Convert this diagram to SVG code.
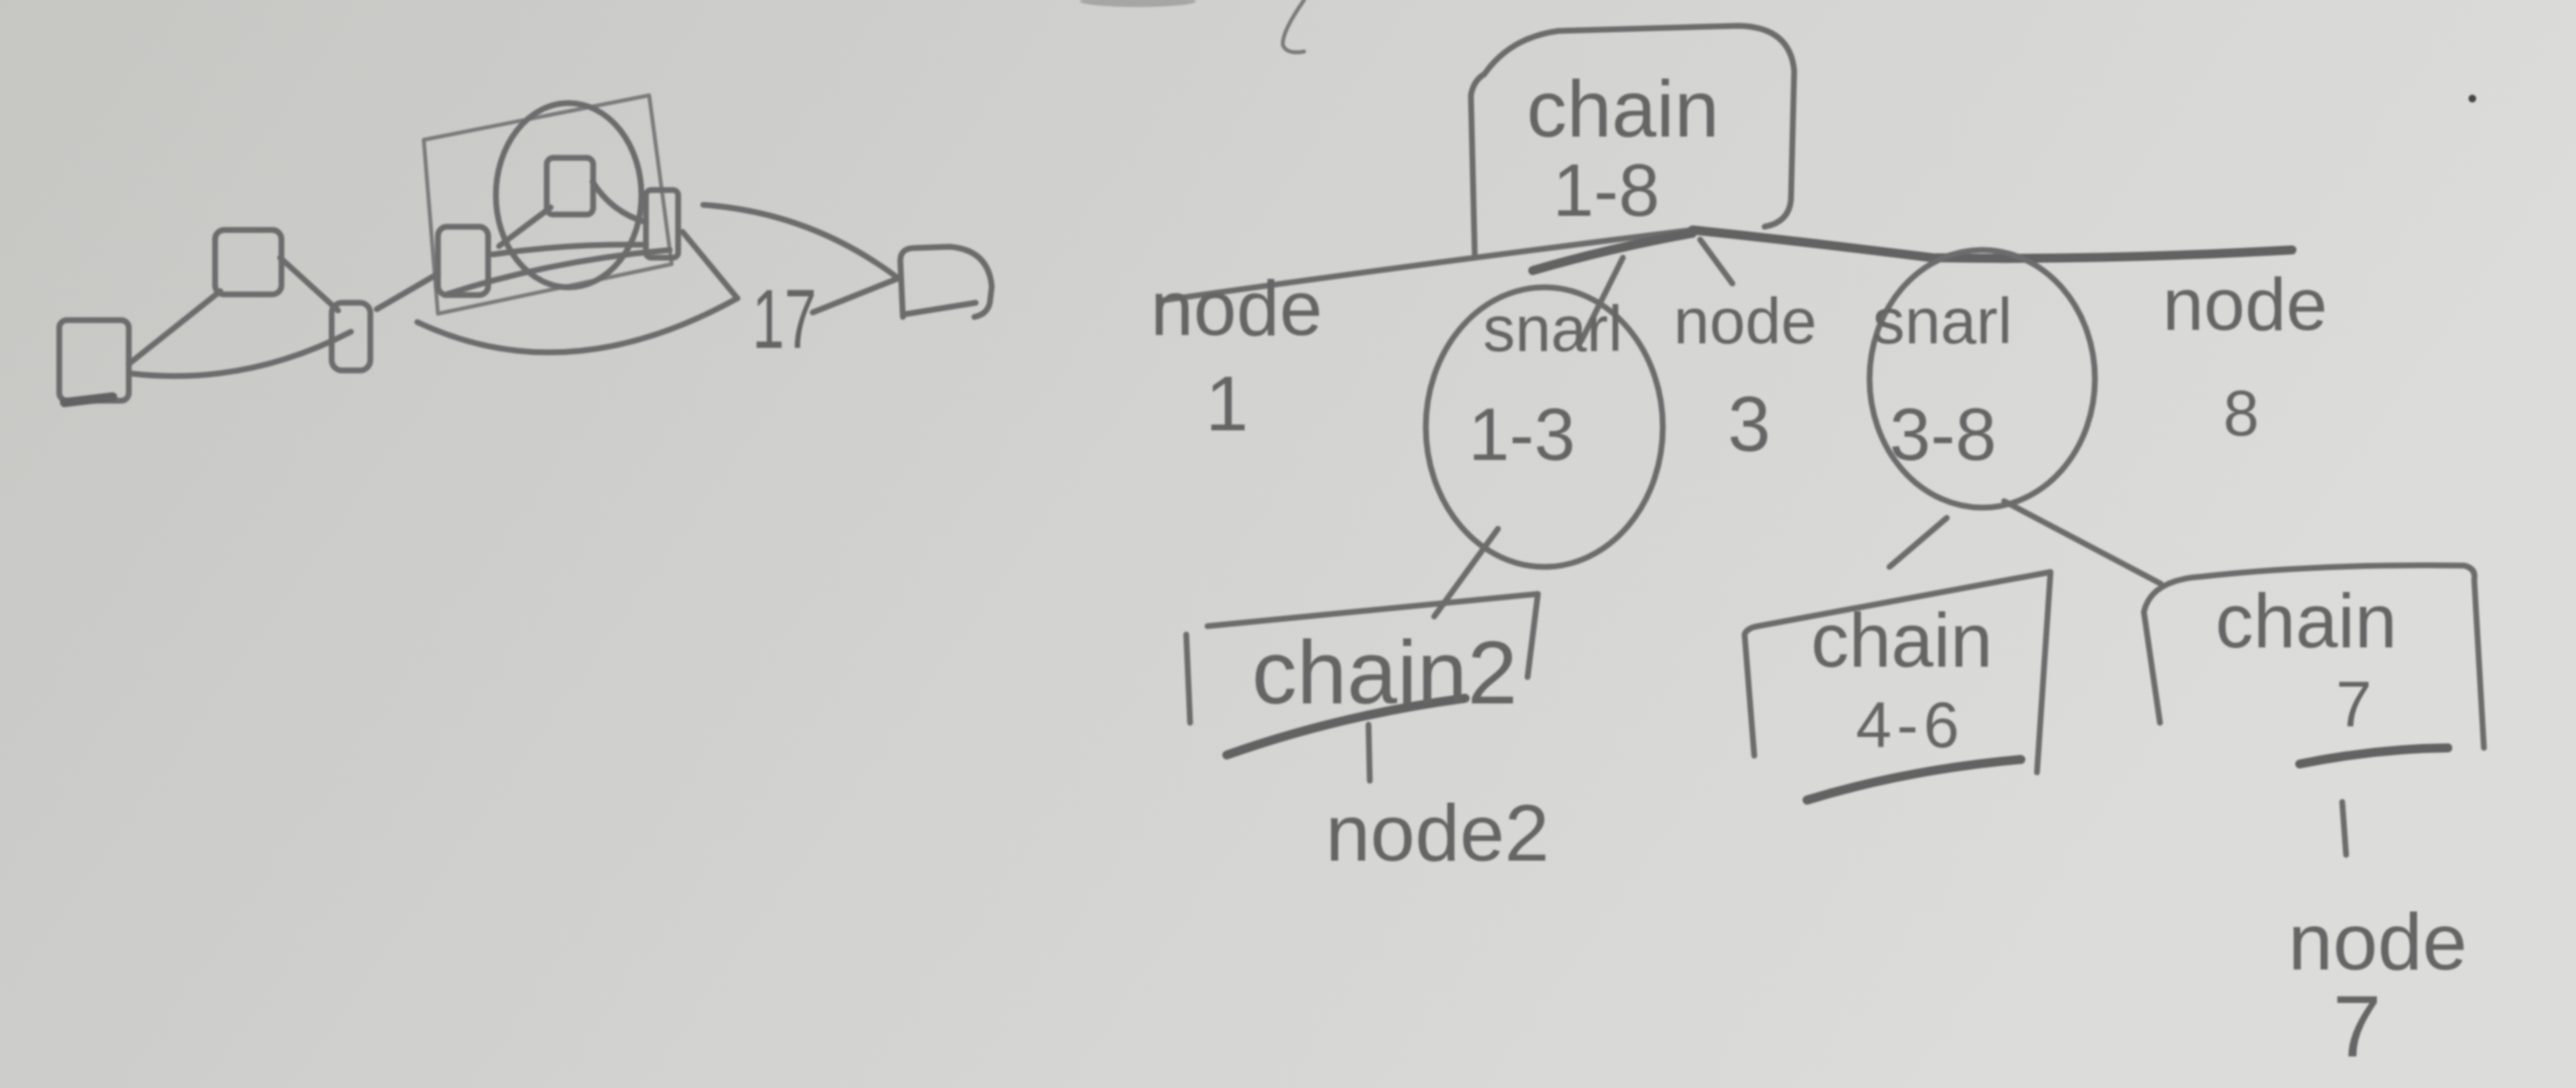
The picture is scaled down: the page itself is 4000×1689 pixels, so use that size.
<svg xmlns="http://www.w3.org/2000/svg" width="4000" height="1689" viewBox="0 0 4000 1689">
<defs>
<linearGradient id="paper" x1="0" y1="0" x2="1" y2="0.3">
<stop offset="0" stop-color="#c6c6c3"/>
<stop offset="0.5" stop-color="#d2d2d0"/>
<stop offset="1" stop-color="#dcdcdb"/>
</linearGradient>
<filter id="soft" x="-5%" y="-5%" width="110%" height="110%"><feGaussianBlur stdDeviation="1.6"/></filter>
</defs>
<style>
.p{fill:none;stroke:#6c6c6c;stroke-width:9;stroke-linecap:round;stroke-linejoin:round}
.thin{stroke-width:6;stroke:#7a7a7a}
.thick{stroke-width:14;stroke:#626262}
.t{font-family:"Liberation Sans",Arial,sans-serif;fill:#656565;text-anchor:middle}
</style>
<rect width="4000" height="1689" fill="url(#paper)"/>
<g filter="url(#soft)">
<!-- stray marks -->
<ellipse cx="1767" cy="2" rx="90" ry="9" fill="#8a8a8a" opacity="0.6"/>
<path class="p thin" d="M2025,0 Q1990,50 1992,70 Q1998,85 2025,80"/>
<circle cx="3839" cy="153" r="6" fill="#444"/>

<!-- LEFT GRAPH -->
<g id="graph-n1"><rect class="p" x="92" y="497" width="108" height="125" rx="12"/><path class="p thick" d="M100,625 L175,616"/></g>
<g id="graph-n2"><rect class="p" x="334" y="357" width="103" height="100" rx="14"/></g>
<g id="graph-n3"><rect class="p" x="515" y="470" width="60" height="105" rx="16"/></g>
<g id="graph-snarl-rect"><polygon class="p thin" points="658,217 1008,148 1043,410 680,487"/></g>
<g id="graph-snarl-circle"><ellipse class="p" cx="883" cy="303" rx="113" ry="143"/></g>
<g id="graph-n4"><rect class="p" x="680" y="352" width="78" height="106" rx="14"/></g>
<g id="graph-n5"><rect class="p" x="849" y="245" width="72" height="88" rx="10"/></g>
<g id="graph-n6"><rect class="p" x="1003" y="295" width="50" height="105" rx="8"/></g>
<g id="graph-n7"><text class="t" x="1218" y="540" font-size="130" textLength="100" lengthAdjust="spacingAndGlyphs">17</text></g>
<g id="graph-n8"><path class="p" d="M1402,492 L1398,405 Q1398,385 1420,385 L1475,383 Q1535,388 1540,445 L1537,470 Q1533,488 1513,492 M1404,488 L1515,470"/></g>

<g id="graph-edges">
<path class="p" d="M200,565 L342,452"/>
<path class="p" d="M435,400 L525,482"/>
<path class="p" d="M205,580 Q380,600 545,515"/>
<path class="p" d="M585,480 L680,425"/>
<path class="p" d="M775,382 L855,322"/>
<path class="p" d="M920,282 Q950,330 1003,345"/>
<path class="p" d="M765,395 Q880,378 1003,380"/>
<path class="p" d="M690,458 Q850,405 1040,388"/>
<path class="p" d="M648,500 Q880,610 1145,463"/>
<path class="p" d="M1060,360 L1145,463"/>
<path class="p" d="M1262,485 L1395,432"/>
<path class="p" d="M1092,318 Q1260,330 1395,432"/>
</g>

<!-- TREE -->
<g id="tree-connectors">
<path class="p" d="M1800,467 Q2200,410 2628,357"/>
<path class="p thick" d="M2380,420 Q2500,385 2628,362"/>
<path class="p thick" d="M2628,357 Q2800,375 3000,400 Q3250,405 3559,388"/>
<path class="p" d="M2520,400 L2455,530"/>
<path class="p" d="M2640,372 L2690,440"/>
<path class="p" d="M2326,821 L2227,957"/>
<path class="p" d="M2125,1125 L2127,1212"/>
<path class="p" d="M3023,804 L2934,880"/>
<path class="p" d="M3112,778 L3355,906"/>
<path class="p" d="M3637,1245 L3643,1327"/>
</g>

<g id="tree-chain-1-8">
<path class="p" d="M2290,395 L2284,148 Q2288,125 2305,115 Q2345,58 2420,48 L2700,40 Q2780,42 2786,110 L2781,310 Q2778,345 2740,352"/>
<text class="t" x="2520" y="212" font-size="125">chain</text>
<text class="t" x="2494" y="335" font-size="115">1-8</text>
</g>
<g id="tree-node-1">
<text class="t" x="1920" y="520" font-size="120">node</text>
<text class="t" x="1905" y="668" font-size="120">1</text>
</g>
<g id="tree-snarl-1-3">
<ellipse class="p" cx="2398" cy="663" rx="184" ry="217"/>
<text class="t" x="2411" y="545" font-size="100">snarl</text>
<text class="t" x="2363" y="714" font-size="115">1-3</text>
</g>
<g id="tree-node-3">
<text class="t" x="2710" y="533" font-size="100">node</text>
<text class="t" x="2716" y="700" font-size="120">3</text>
</g>
<g id="tree-snarl-3-8">
<ellipse class="p" cx="3078" cy="588" rx="175" ry="200"/>
<text class="t" x="3016" y="533" font-size="100">snarl</text>
<text class="t" x="3017" y="714" font-size="115">3-8</text>
</g>
<g id="tree-node-8">
<text class="t" x="3486" y="512" font-size="115">node</text>
<text class="t" x="3480" y="676" font-size="100">8</text>
</g>
<g id="tree-chain-2">
<path class="p" d="M1848,1122 L1842,985 M1875,972 L2388,922 L2372,1051"/>
<path class="p thick" d="M1905,1172 Q2080,1110 2275,1084"/>
<text class="t" x="2150" y="1092" font-size="140">chain2</text>
</g>
<g id="tree-node-2">
<text class="t" x="2232" y="1336" font-size="125">node2</text>
</g>
<g id="tree-chain-4-6">
<path class="p" d="M2724,1173 L2709,985 Q2712,975 2730,972 L3184,888 L3163,1199"/>
<path class="p thick" d="M2806,1242 Q2960,1195 3138,1179"/>
<text class="t" x="2953" y="1035" font-size="118">chain</text>
<text class="t" x="2966" y="1160" font-size="100" letter-spacing="8">4-6</text>
</g>
<g id="tree-chain-7">
<path class="p" d="M3354,1122 L3329,950 Q3340,900 3420,895 Q3600,875 3826,878 Q3845,882 3842,900 L3857,1161"/>
<path class="p thick" d="M3571,1186 Q3690,1162 3801,1161"/>
<text class="t" x="3581" y="1005" font-size="118">chain</text>
<text class="t" x="3655" y="1128" font-size="100">7</text>
</g>
<g id="tree-node-7">
<text class="t" x="3692" y="1505" font-size="125">node</text>
<text class="t" x="3660" y="1640" font-size="135">7</text>
</g>
</g>
</svg>
